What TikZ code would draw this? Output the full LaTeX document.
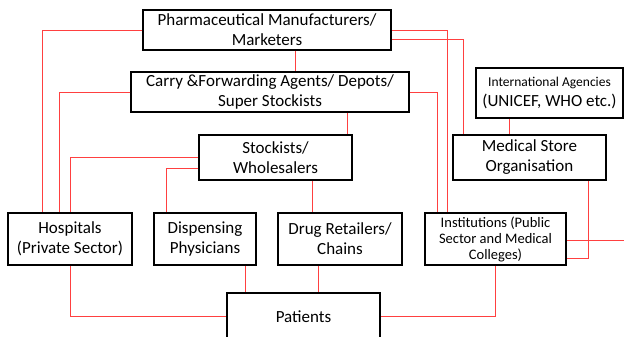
\documentclass[tikz,border=0pt]{standalone}
\usepackage{fontspec}
\setmainfont{Carlito}
\tikzset{
  box/.style={draw=black,line width=1.5pt,fill=white,align=center,inner sep=0pt,
    font=\fontsize{17}{20}\selectfont},
  smallbox/.style={box,font=\fontsize{14.5}{16}\selectfont},
  link/.style={draw=red!75,line width=0.9pt}
}
\begin{document}
\begin{tikzpicture}[x=1pt,y=-1pt]
                \useasboundingbox (0,0) rectangle (624,337);
                \clip (0,0) rectangle (624,337);
                \node[box,minimum width=248pt,minimum height=40pt] (pharma) at (267,30) {Pharmaceutical Manufacturers/\\Marketers};
                \node[box,minimum width=278pt,minimum height=40pt] (carry) at (270,92) {Carry \&Forwarding Agents/ Depots/\\Super Stockists};
                \node[box,minimum width=153pt,minimum height=45pt] (stock) at (275.5,157.5) {Stockists/\\Wholesalers};
                \node[box,minimum width=147pt,minimum height=50pt] (intl) at (549.5,93) {{\fontsize{13.5}{17}\selectfont International Agencies}\\(UNICEF, WHO etc.)};
                \node[box,minimum width=153pt,minimum height=45pt] (msto) at (529.5,157.5) {Medical Store\\Organisation};
                \node[box,minimum width=124pt,minimum height=52pt] (hosp) at (70,239) {Hospitals\\(Private Sector)};
                \node[box,minimum width=102pt,minimum height=52pt] (disp) at (205,239) {Dispensing\\Physicians};
                \node[box,minimum width=124pt,minimum height=52pt] (drug) at (340,239) {Drug Retailers/\\Chains};
                \node[smallbox,minimum width=141pt,minimum height=52pt] (inst) at (495.5,239) {Institutions (Public\\Sector and Medical\\Colleges)};
                \node[box,minimum width=153pt,minimum height=47pt] (pat) at (303.5,316.5) {Patients};
                \coordinate (offpage) at (630,240);
                \draw[link] (pharma.west) -| ([xshift=-28pt]hosp.north);
                \draw[link] (carry.west) -| ([xshift=-11pt]hosp.north);
                \draw[link] (stock.west) -| (hosp.north);
                \draw[link] ([yshift=-10.5pt]stock.west) -| ([xshift=-39pt]disp.north);
                \draw[link] ([xshift=28pt]pharma.south) -- ([xshift=25pt]carry.north);
                \draw[link] ([xshift=77pt]carry.south) -- ([xshift=71.5pt]stock.north);
                \draw[link] ([xshift=36.5pt]stock.south) -- ([xshift=-28pt]drug.north);
                \draw[link] (hosp.south) |- (pat.west);
                \draw[link] ([xshift=40pt]disp.south) -- ([xshift=-58.5pt]pat.north);
                \draw[link] ([xshift=-22pt]drug.south) -- ([xshift=14.5pt]pat.north);
                \draw[link] (inst.south) |- (pat.east);
                \draw[link] (pharma.east) -| ([xshift=-48.5pt]inst.north);
                \draw[link] ([yshift=-9pt]pharma.east) -| ([xshift=-66.5pt]msto.north);
                \draw[link] (carry.east) -| ([xshift=-58.5pt]inst.north);
                \draw[link] ([xshift=-40.5pt]intl.south) -- ([xshift=-20.5pt]msto.north);
                \draw[link] ([xshift=58.5pt]msto.south) |- ([yshift=-19pt]inst.east);
                \draw[link] ([yshift=-1pt]inst.east) -- (offpage);
            \end{tikzpicture}
\end{document}
